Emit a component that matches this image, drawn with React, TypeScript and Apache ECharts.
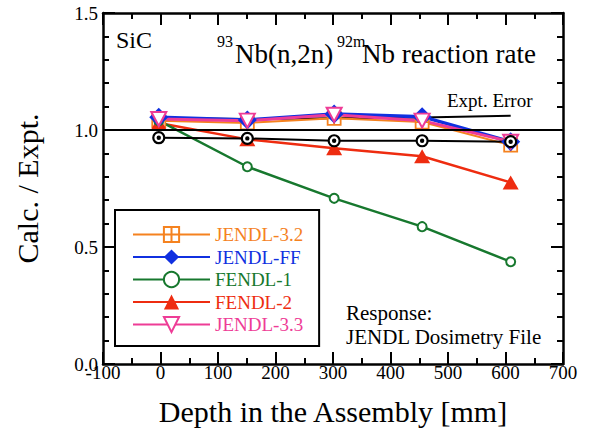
import React, { useEffect, useRef } from "react";
import * as echarts from "echarts";

const depth = [-3, 151, 302, 455, 609];
const jendl32 = [1.04, 1.03, 1.05, 1.034, 0.935];
const jendlFF = [1.054, 1.043, 1.068, 1.057, 0.95];
const fendl1 = [1.04, 0.843, 0.708, 0.587, 0.437];
const fendl2 = [1.03, 0.96, 0.922, 0.888, 0.776];
const jendl33 = [1.047, 1.04, 1.065, 1.04, 0.95];
const exptUpper = [1.05, 1.047, 1.05, 1.053, 1.061];
const exptLower = [0.967, 0.964, 0.954, 0.954, 0.95];

const seriesNames = ["JENDL-3.2", "JENDL-FF", "FENDL-1", "FENDL-2", "JENDL-3.3"];
const xTicks = { min: -100, max: 700, interval: 100 };
const yTicks = { min: 0, max: 1.5, interval: 0.5 };

const C_ORANGE = "#F5821F";
const C_BLUE = "#1030E0";
const C_GREEN = "#17782E";
const C_RED = "#EE2C10";
const C_PINK = "#EE3C96";

const FONT = "Liberation Serif";

const pts = (ys: number[]) => depth.map((x, i) => [x, ys[i]]);

const SQUARE_PLUS = "path://M0,0 L10,0 L10,10 L0,10 Z M5,0 L5,10 M0,5 L10,5";
const BULLSEYE =
  "path://M10,0 A10,10 0 1,1 -10,0 A10,10 0 1,1 10,0 Z M2,0 A2,2 0 1,1 -2,0 A2,2 0 1,1 2,0 Z";

export default function App() {
  const ref = useRef<HTMLDivElement>(null);
  useEffect(() => {
    if (!ref.current) return;
    const chart = echarts.init(ref.current, undefined, { renderer: "svg" });
    const axisCommon = {
      axisLine: { show: true, onZero: false, lineStyle: { color: "#000", width: 2.5 } },
      axisTick: { show: true, inside: true, length: 12, lineStyle: { color: "#000", width: 2 } },
      minorTick: { show: true, length: 6, lineStyle: { color: "#000", width: 2 } },
      splitLine: { show: false },
      minorSplitLine: { show: false },
    };
    const legendText = (color: string) => ({
      color,
      fontSize: 19,
      fontFamily: FONT,
      fontStyle: "normal",
      fontWeight: "normal",
    });
    const option: any = {
      animation: false,
      backgroundColor: "#fff",
      textStyle: { fontFamily: FONT, color: "#000" },
      grid: { left: 103, right: 28, top: 13, bottom: 66, containLabel: false, outerBoundsMode: "none" },
      xAxis: [
        {
          type: "value",
          position: "bottom",
          ...xTicks,
          ...axisCommon,
          minorTick: { ...axisCommon.minorTick, splitNumber: 2 },
          axisLabel: {
            show: true,
            fontSize: 19,
            color: "#000",
            fontFamily: FONT,
            fontStyle: "normal",
            fontWeight: "normal",
            margin: -1,
          },
          name: "Depth in the Assembly [mm]",
          nameLocation: "middle",
          nameGap: 32,
          nameTextStyle: { fontSize: 30, color: "#000", fontFamily: FONT },
        },
        {
          type: "value",
          position: "top",
          ...xTicks,
          ...axisCommon,
          minorTick: { ...axisCommon.minorTick, splitNumber: 2 },
          axisLabel: { show: false },
        },
      ],
      yAxis: [
        {
          type: "value",
          position: "left",
          ...yTicks,
          ...axisCommon,
          minorTick: { ...axisCommon.minorTick, splitNumber: 5 },
          axisLabel: {
            show: true,
            fontSize: 19,
            color: "#000",
            fontFamily: FONT,
            fontStyle: "normal",
            fontWeight: "normal",
            margin: 5,
            formatter: (v: number) => v.toFixed(1),
          },
          name: "Calc. / Expt.",
          nameLocation: "middle",
          nameGap: 61,
          nameTextStyle: { fontSize: 30, color: "#000", fontFamily: FONT },
        },
        {
          type: "value",
          position: "right",
          ...yTicks,
          ...axisCommon,
          minorTick: { ...axisCommon.minorTick, splitNumber: 5 },
          axisLabel: { show: false },
        },
      ],
      legend: {
        orient: "vertical",
        left: 115,
        top: 210,
        itemWidth: 77,
        itemHeight: 19,
        itemGap: 3.5,
        padding: [15, 16, 12, 17],
        backgroundColor: "#fff",
        borderColor: "#000",
        borderWidth: 2,
        borderRadius: 0,
        textStyle: { fontSize: 19, fontFamily: FONT, fontStyle: "normal", fontWeight: "normal" },
        data: [
          { name: seriesNames[0], textStyle: legendText(C_ORANGE) },
          { name: seriesNames[1], textStyle: legendText(C_BLUE) },
          { name: seriesNames[2], textStyle: legendText(C_GREEN) },
          { name: seriesNames[3], textStyle: legendText(C_RED) },
          { name: seriesNames[4], textStyle: legendText(C_PINK) },
        ],
      },
      series: [
        {
          name: "Expt. Error upper",
          type: "line",
          data: pts(exptUpper),
          symbol: "none",
          lineStyle: { color: "#000", width: 2 },
          markLine: {
            silent: true,
            symbol: "none",
            label: { show: false },
            lineStyle: { color: "#000", width: 2, type: "solid" },
            data: [{ yAxis: 1.0 }],
          },
        },
        {
          name: seriesNames[0],
          type: "line",
          data: pts(jendl32),
          symbol: SQUARE_PLUS,
          symbolSize: 13,
          lineStyle: { color: C_ORANGE, width: 2 },
          itemStyle: { color: "#fff", borderColor: C_ORANGE, borderWidth: 1.8 },
        },
        {
          name: seriesNames[3],
          type: "line",
          data: pts(fendl2),
          symbol: "triangle",
          symbolSize: [16, 14],
          lineStyle: { color: C_RED, width: 2.5 },
          itemStyle: { color: C_RED },
        },
        {
          name: seriesNames[2],
          type: "line",
          data: pts(fendl1),
          symbol: "emptyCircle",
          symbolSize: 9,
          lineStyle: { color: C_GREEN, width: 2.5 },
          itemStyle: { color: C_GREEN, borderColor: C_GREEN, borderWidth: 2 },
        },
        {
          name: seriesNames[1],
          type: "line",
          data: pts(jendlFF),
          symbol: "diamond",
          symbolSize: 19,
          lineStyle: { color: C_BLUE, width: 3.5 },
          itemStyle: { color: C_BLUE },
        },
        {
          name: seriesNames[4],
          type: "line",
          data: pts(jendl33),
          symbol: "emptyTriangle",
          symbolRotate: 180,
          symbolSize: [15, 14],
          lineStyle: { color: C_PINK, width: 3 },
          itemStyle: { color: C_PINK, borderColor: C_PINK, borderWidth: 2.5 },
        },
        {
          name: "Expt. Error lower",
          type: "line",
          data: pts(exptLower),
          symbol: BULLSEYE,
          symbolSize: 11,
          lineStyle: { color: "#000", width: 2 },
          itemStyle: { color: "#fff", borderColor: "#000", borderWidth: 2.2 },
        },
      ],
      graphic: [
        {
          type: "text",
          x: 116,
          y: 40,
          style: { text: "SiC", fontSize: 24, fontFamily: FONT, fill: "#000", verticalAlign: "middle", align: "left" },
        },
        {
          type: "text",
          x: 217,
          y: 41.4,
          style: { text: "93", fontSize: 16, fontFamily: FONT, fill: "#000", verticalAlign: "middle", align: "left" },
        },
        {
          type: "text",
          x: 235,
          y: 54,
          style: { text: "Nb(n,2n)", fontSize: 27, fontFamily: FONT, fill: "#000", verticalAlign: "middle", align: "left" },
        },
        {
          type: "text",
          x: 337,
          y: 41.4,
          style: { text: "92m", fontSize: 16, fontFamily: FONT, fill: "#000", verticalAlign: "middle", align: "left" },
        },
        {
          type: "text",
          x: 362,
          y: 54,
          style: { text: "Nb reaction rate", fontSize: 27, fontFamily: FONT, fill: "#000", verticalAlign: "middle", align: "left" },
        },
        {
          type: "text",
          x: 447,
          y: 100.6,
          style: { text: "Expt. Error", fontSize: 19, fontFamily: FONT, fill: "#000", verticalAlign: "middle", align: "left" },
        },
        {
          type: "text",
          x: 346,
          y: 312.9,
          style: { text: "Response:", fontSize: 21, fontFamily: FONT, fill: "#000", verticalAlign: "middle", align: "left" },
        },
        {
          type: "text",
          x: 346,
          y: 336.9,
          style: { text: "JENDL Dosimetry File", fontSize: 21, fontFamily: FONT, fill: "#000", verticalAlign: "middle", align: "left" },
        },
      ],
    };
    chart.setOption(option);
    return () => chart.dispose();
  }, []);
  return (
    <div
      ref={ref}
      style={{ position: "fixed", left: 0, top: 0, width: 591, height: 430, background: "#fff" }}
    />
  );
}
